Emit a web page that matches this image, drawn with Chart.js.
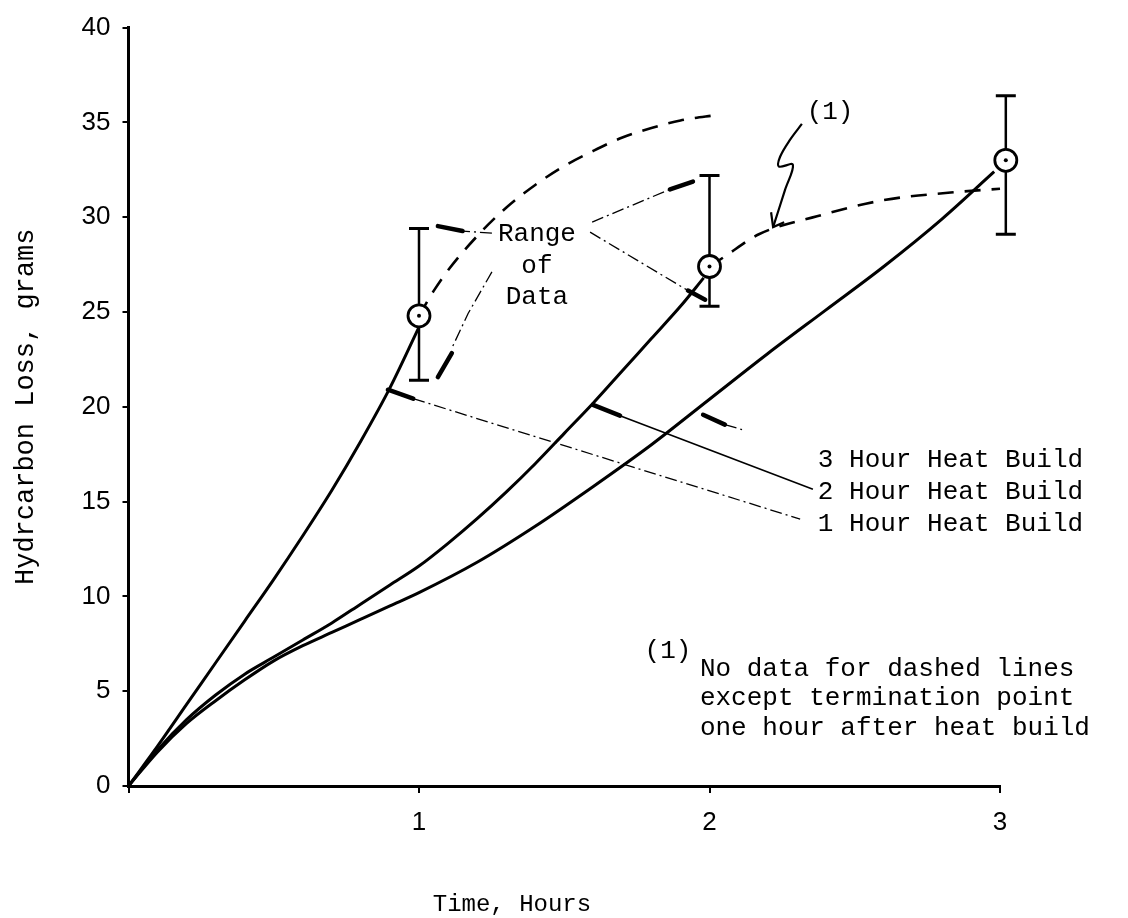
<!DOCTYPE html>
<html><head><meta charset="utf-8">
<script src="https://cdn.jsdelivr.net/npm/chart.js@4.4.1/dist/chart.umd.min.js"></script>
<style>html,body{margin:0;padding:0;background:#fff}#wrap{width:1128px;height:918px}</style>
</head><body><div id="wrap"><canvas id="c" width="1128" height="918"></canvas></div>
<script>
// ---- data (hours / grams) ----
const xTickLabels = ['', '1', '2', '3'];
const yTickValues = [0, 5, 10, 15, 20, 25, 30, 35, 40];

const oneHourT = [0, 0.1, 0.2, 0.3, 0.4, 0.5, 0.6, 0.7, 0.8, 0.9, 1.0];
const oneHourY = [0, 2.1, 4.3, 6.5, 8.7, 10.9, 13.2, 15.6, 18.2, 21.0, 24.2];

const twoHourT = [0, 0.1, 0.2, 0.3, 0.4, 0.5, 0.6, 0.7, 0.8, 0.9, 1.0, 1.1, 1.2, 1.3, 1.4, 1.5, 1.6, 1.7, 1.8, 1.9, 1.98];
const twoHourY = [0, 1.9, 3.5, 4.8, 5.9, 6.8, 7.7, 8.6, 9.6, 10.6, 11.6, 12.8, 14.1, 15.5, 17.0, 18.6, 20.2, 21.9, 23.6, 25.3, 26.8];

const threeHourT = [0, 0.1, 0.2, 0.3, 0.4, 0.5, 0.6, 0.7, 0.8, 0.9, 1.0, 1.2, 1.4, 1.6, 1.8, 2.0, 2.2, 2.4, 2.6, 2.8, 2.98];
const threeHourY = [0, 1.8, 3.3, 4.5, 5.6, 6.6, 7.4, 8.1, 8.8, 9.5, 10.2, 11.8, 13.7, 15.8, 18.0, 20.4, 22.8, 25.1, 27.4, 29.9, 32.4];

const dashUpperT = [1.0, 1.05, 1.1, 1.2, 1.3, 1.4, 1.5, 1.6, 1.7, 1.8, 1.9, 2.03];
const dashUpperY = [24.8, 26.1, 27.2, 29.0, 30.5, 31.7, 32.7, 33.5, 34.2, 34.7, 35.1, 35.4];

const dashLowerT = [2.0, 2.05, 2.17, 2.37, 2.6, 2.83, 3.0];
const dashLowerY = [27.4, 27.9, 29.1, 30.05, 30.9, 31.3, 31.5];

const pointT = [1, 2, 3.02];
const pointY = [24.8, 27.4, 33.0];
const errLow = [21.4, 25.3, 29.1];
const errHigh = [29.4, 32.2, 36.4];

const seriesLabels = ['3 Hour Heat Build', '2 Hour Heat Build', '1 Hour Heat Build'];

// annotation leader lines (hours, grams)
const leaderDashDot = [
  [[1.251, 29.16], [1.150, 29.27]],
  [[1.596, 29.74], [1.864, 31.47]],
  [[1.589, 29.21], [1.926, 26.13]],
  [[1.251, 27.12], [1.169, 24.92], [1.113, 23.09]],
  [[0.980, 20.43], [2.312, 14.08]],
  [[2.053, 19.06], [2.112, 18.80]]
];
const leaderSolid = [
  [[1.692, 19.53], [2.356, 15.65]]
];
const leaderArrows = [
  [[1.150, 29.27], [1.065, 29.53]],
  [[1.864, 31.47], [1.943, 31.88]],
  [[1.926, 26.13], [1.985, 25.65]],
  [[1.113, 22.83], [1.065, 21.57]],
  [[0.893, 20.90], [0.980, 20.43]],
  [[1.599, 20.10], [1.692, 19.53]],
  [[1.978, 19.58], [2.053, 19.06]]
];
const squiggleT = [2.318, 2.277, 2.243, 2.239, 2.287, 2.260, 2.219];
const squiggleY = [34.92, 34.08, 33.19, 32.67, 32.77, 31.44, 29.48];
const squiggleHead = [[2.212, 30.26], [2.219, 29.48], [2.257, 29.74]];

// annotation text (anchor in hours, grams)
const rangeText = ['Range', 'of', 'Data'];
const rangeTextY = [29.11, 27.43, 25.81];
const noteText = ['No data for dashed lines', 'except termination point', 'one hour after heat build'];
const noteTextY = [6.18, 4.61, 3.04];
const seriesLabelY = [17.17, 15.50, 13.82];

const toXY = (ts, ys) => ts.map((t, i) => ({x: t, y: ys[i]}));

const MONO = '"Liberation Mono", "DejaVu Sans Mono", monospace';
const SANS = '"Liberation Sans", Arial, sans-serif';

const annotPlugin = {
  id: 'annot',
  beforeDatasetsDraw(chart) {
    const {ctx, scales: {x, y}} = chart;
    ctx.save();
    ctx.strokeStyle = '#000';
    pointT.forEach((t, i) => {
      const px = x.getPixelForValue(t);
      const lo = y.getPixelForValue(errLow[i]);
      const hi = y.getPixelForValue(errHigh[i]);
      ctx.lineWidth = 2.5;
      ctx.beginPath(); ctx.moveTo(px, lo); ctx.lineTo(px, hi); ctx.stroke();
      ctx.lineWidth = 3;
      ctx.beginPath();
      ctx.moveTo(px - 10, lo); ctx.lineTo(px + 10, lo);
      ctx.moveTo(px - 10, hi); ctx.lineTo(px + 10, hi);
      ctx.stroke();
    });
    const path = (pts) => { ctx.beginPath(); pts.forEach((p, k) => { const X = x.getPixelForValue(p[0]), Y = y.getPixelForValue(p[1]); k ? ctx.lineTo(X, Y) : ctx.moveTo(X, Y); }); ctx.stroke(); };
    ctx.lineWidth = 1.3;
    ctx.setLineDash([12, 4, 2, 4]);
    leaderDashDot.forEach(path);
    ctx.setLineDash([]);
    ctx.lineWidth = 1.6;
    leaderSolid.forEach(path);
    ctx.lineWidth = 4.5; ctx.lineCap = 'round';
    leaderArrows.forEach(path);
    ctx.lineWidth = 2.2; ctx.lineCap = 'butt';
    path(squiggleHead);
    ctx.restore();
  },
  afterDatasetsDraw(chart) {
    const {ctx, scales: {x, y}} = chart;
    ctx.save();
    ctx.fillStyle = '#000';
    pointT.forEach((t, i) => {
      ctx.beginPath();
      ctx.arc(x.getPixelForValue(t), y.getPixelForValue(pointY[i]), 2, 0, Math.PI * 2);
      ctx.fill();
    });
    ctx.font = '26px ' + MONO;
    ctx.textBaseline = 'middle';
    ctx.textAlign = 'center';
    rangeText.forEach((s, i) => ctx.fillText(s, x.getPixelForValue(1.406), y.getPixelForValue(rangeTextY[i])));
    ctx.fillText('(1)', x.getPixelForValue(2.415), y.getPixelForValue(35.55));
    ctx.fillText('(1)', x.getPixelForValue(1.857), y.getPixelForValue(7.12));
    ctx.textAlign = 'left';
    seriesLabels.forEach((s, i) => ctx.fillText(s, x.getPixelForValue(2.373), y.getPixelForValue(seriesLabelY[i])));
    noteText.forEach((s, i) => ctx.fillText(s, x.getPixelForValue(1.967), y.getPixelForValue(noteTextY[i])));
    ctx.textAlign = 'center';
    ctx.font = '24px ' + MONO;
    ctx.fillText('Time, Hours', x.getPixelForValue(1.32), 905);
    ctx.restore();
  }
};

const lineDs = (data, extra) => Object.assign({
  type: 'scatter', data, showLine: true, borderColor: '#000', borderWidth: 3, clip: false,
  pointRadius: 0, pointHoverRadius: 0, cubicInterpolationMode: 'monotone', order: 1, fill: false
}, extra || {});

new Chart(document.getElementById('c'), {
  type: 'scatter',
  data: {
    datasets: [
      { data: toXY(pointT, pointY), pointRadius: 11, pointBackgroundColor: '#fff', pointBorderColor: '#000',
        pointBorderWidth: 2.8, showLine: false, order: 0, clip: false },
      lineDs(toXY(oneHourT, oneHourY), {label: seriesLabels[2]}),
      lineDs(toXY(twoHourT, twoHourY), {label: seriesLabels[1]}),
      lineDs(toXY(threeHourT, threeHourY), {label: seriesLabels[0]}),
      lineDs(toXY(dashUpperT, dashUpperY), {borderDash: [16, 11], borderWidth: 2.6}),
      lineDs(toXY(dashLowerT, dashLowerY), {borderDash: [16, 11], borderWidth: 2.6}),
      lineDs(toXY(squiggleT, squiggleY), {borderWidth: 2.2, tension: 0.35, cubicInterpolationMode: 'default'})
    ]
  },
  options: {
    responsive: false, animation: false, devicePixelRatio: 1,
    layout: {padding: {left: 0, top: 22, right: 128, bottom: 0}},
    plugins: {legend: {display: false}, tooltip: {enabled: false}},
    scales: {
      x: {
        type: 'linear', min: 0, max: 3,
        afterFit: s => { s.height = 132; },
        afterBuildTicks: s => { s.ticks = xTickLabels.map((l, i) => ({value: i})); },
        ticks: { callback: (v, i) => xTickLabels[i], color: '#000', font: {family: SANS, size: 26}, padding: 14, maxRotation: 0 },
        grid: { drawOnChartArea: false, drawTicks: true, tickLength: 7, color: '#000', lineWidth: 2 },
        border: { display: true, color: '#000', width: 3 }
      },
      y: {
        type: 'linear', min: 0, max: 40,
        afterFit: s => { s.width = 128.5; },
        afterBuildTicks: s => { s.ticks = yTickValues.map(v => ({value: v})); },
        ticks: { color: '#000', font: {family: SANS, size: 26}, padding: 12 },
        grid: { drawOnChartArea: false, drawTicks: true, tickLength: 6, color: '#000', lineWidth: 2 },
        border: { display: true, color: '#000', width: 3 },
        title: { display: true, text: 'Hydrcarbon Loss, grams', color: '#000', font: {family: MONO, size: 27}, padding: {top: 10, bottom: 0} }
      }
    }
  },
  plugins: [annotPlugin]
});
</script></body></html>
